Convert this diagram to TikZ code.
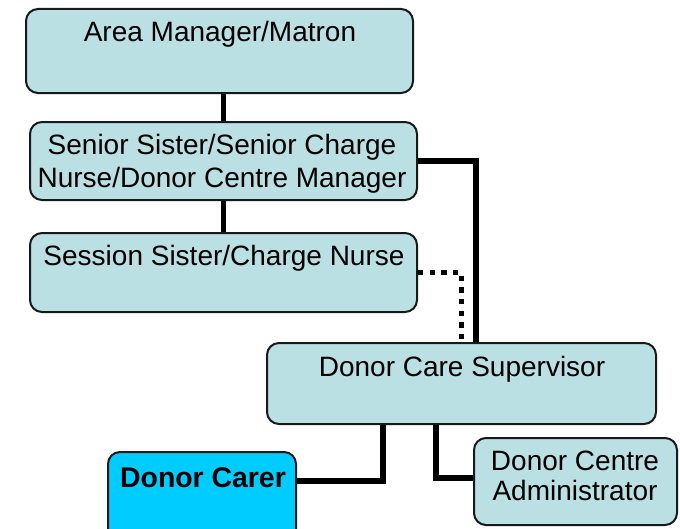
\documentclass[tikz,border=0pt]{standalone}
\usepackage{fontspec}
\setmainfont{Liberation Sans}
\usetikzlibrary{fit}
\definecolor{boxfill}{RGB}{187,224,227}
\definecolor{carerfill}{RGB}{0,204,255}
\definecolor{boxline}{RGB}{25,25,25}
\begin{document}
\begin{tikzpicture}[x=0.75pt,y=-0.75pt,
  box/.style={draw=boxline, line width=1.5pt, fill=boxfill, rounded corners=9pt, inner sep=0pt},
  carer/.style={box, fill=carerfill},
  txt/.style={font=\fontsize{21pt}{24.75pt}\selectfont, inner sep=0pt, align=center, anchor=base},
  conn/.style={line width=4pt, black},
  dotline/.style={line width=4pt, black, dash pattern=on 4pt off 4.75pt}]
\useasboundingbox (0,0) rectangle (680,528);
\fill[white] (0,0) rectangle (680,528);
% boxes
\node[box, fit={(26,9) (413,93)}] (b1) {};
\node[box, fit={(30,122) (417,200)}] (b2) {};
\node[box, fit={(30,233) (417,312)}] (b3) {};
\node[box, fit={(267,343) (656,424)}] (b4) {};
\node[carer, fit={(108,452) (296,548)}] (b5) {};
\node[box, fit={(474,438) (677,525)}] (b6) {};
% texts
\node[txt] (t1) at (220,41) {Area Manager/Matron};
\node[txt] (t2) at (222,187) {Senior Sister/Senior Charge\\Nurse/Donor Centre Manager};
\node[txt] (t3) at (224,265) {Session Sister/Charge Nurse};
\node[txt] (t4) at (462,376) {Donor Care Supervisor};
\node[txt, font=\fontsize{21.3pt}{24.75pt}\selectfont\bfseries] (t5) at (203,487) {Donor Carer};
\node[txt, font=\fontsize{21pt}{22.5pt}\selectfont] (t6) at (575,500) {Donor Centre\\Administrator};
% helper coordinates
\coordinate (k1) at (476,0);
\coordinate (k3) at (383,481);
\coordinate (k5) at (436,478);
% connectors
\draw[conn] (b2.north) -- (b2.north |- b1.south);
\draw[conn] (b2.south) -- (b3.north);
\draw[conn] (b2.east) -| (k1 |- b4.north);
\draw[dotline] (b3.east) -| (b4.north);
\draw[conn] (k3 |- b4.south) |- (b5.east |- k3);
\draw[conn] (k5 |- b4.south) |- (b6.west |- k5);
\end{tikzpicture}
\end{document}
